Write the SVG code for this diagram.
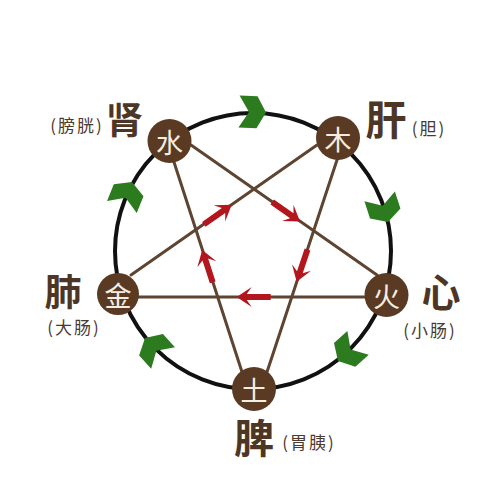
<svg xmlns="http://www.w3.org/2000/svg" xmlns:xlink="http://www.w3.org/1999/xlink" width="500" height="500" viewBox="0 0 500 500">
<style>
.ring{fill:none;stroke:#111;stroke-width:4}
.ln{stroke:#5e4532;stroke-width:3;stroke-linecap:round}
.nd{fill:#5b3a24}
.nt{fill:#f4eee2;font-family:"Noto Sans CJK SC","Noto Sans CJK TC",sans-serif;font-size:27px;text-anchor:middle;dominant-baseline:central}
.big{fill:#4e3626;font-family:"Noto Sans CJK SC","Noto Sans CJK TC",sans-serif;font-weight:bold;text-anchor:middle;dominant-baseline:central}
.sm{fill:#4a3a30;font-family:"Noto Sans CJK SC","Noto Sans CJK TC",sans-serif;font-size:17px;letter-spacing:2px;text-anchor:middle;dominant-baseline:central}
.chev{fill:#2d7b1f}
.ra{fill:#b3161c}
</style>
<defs>
<polygon id="chev" class="chev" points="0,0 -9,-16 -27,-16 -17,0 -27,16 -9,16"/>
<path id="ra" class="ra" d="M0,0 L-15,-10 L-10,-3 L-34,-3 L-34,3 L-10,3 L-15,10 Z"/>
</defs>
<rect width="500" height="500" fill="#fff"/>
<circle class="ring" cx="253" cy="251" r="138"/>
<g id="connectors">
<line class="ln" x1="191" y1="145" x2="377" y2="275"/>
<line class="ln" x1="317" y1="145" x2="131" y2="275"/>
<line class="ln" x1="173" y1="159" x2="242" y2="372"/>
<line class="ln" x1="338" y1="157" x2="267" y2="372"/>
<line class="ln" x1="138" y1="297" x2="366" y2="297"/>
<use xlink:href="#ra" transform="translate(231.7,204.8) rotate(-35.1)"/>
<use xlink:href="#ra" transform="translate(300,221.5) rotate(35.1)"/>
<use xlink:href="#ra" transform="translate(296.7,281.7) rotate(108.5)"/>
<use xlink:href="#ra" transform="translate(236.7,297) rotate(180)"/>
<use xlink:href="#ra" transform="translate(202.2,250) rotate(-108)"/>
<use xlink:href="#chev" transform="translate(266,112.5) rotate(2)"/>
<use xlink:href="#chev" transform="translate(388,222) rotate(72)"/>
<use xlink:href="#chev" transform="translate(338,361) rotate(138)"/>
<use xlink:href="#chev" transform="translate(145,338) rotate(228)"/>
<use xlink:href="#chev" transform="translate(132,182) rotate(-68)"/>
</g>
<g id="node-shui">
<circle class="nd" cx="169.5" cy="141" r="22"/>
<text class="nt" x="169.5" y="141">水</text>
<text class="big" x="124.5" y="118" font-size="37">肾</text>
<text class="sm" x="77" y="124">(膀胱)</text>
</g>
<g id="node-mu">
<circle class="nd" cx="338" cy="138" r="22"/>
<text class="nt" x="338" y="138">木</text>
<text class="big" x="386" y="117" font-size="41">肝</text>
<text class="sm" x="429" y="127.5">(胆)</text>
</g>
<g id="node-jin">
<circle class="nd" cx="118" cy="294" r="21"/>
<text class="nt" x="118" y="294">金</text>
<text class="big" x="63" y="290" font-size="37">肺</text>
<text class="sm" x="74" y="326">(大肠)</text>
</g>
<g id="node-huo">
<circle class="nd" cx="386.5" cy="295" r="22"/>
<text class="nt" x="386.5" y="295">火</text>
<text class="big" x="441" y="290" font-size="39">心</text>
<text class="sm" x="430" y="329">(小肠)</text>
</g>
<g id="node-tu">
<circle class="nd" cx="254" cy="389" r="22"/>
<text class="nt" x="254" y="389">土</text>
<text class="big" x="254" y="436" font-size="40">脾</text>
<text class="sm" x="309" y="441">(胃胰)</text>
</g>
</svg>
